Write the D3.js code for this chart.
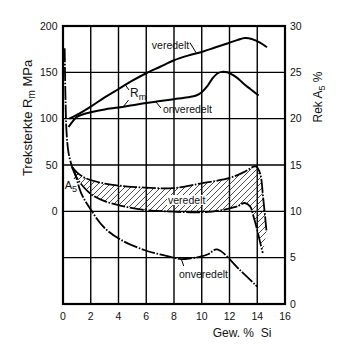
<!DOCTYPE html>
<html>
<head>
<meta charset="utf-8">
<script src="https://cdn.jsdelivr.net/npm/d3@7"></script>
<style>
  html, body { margin: 0; padding: 0; background: #fff; }
  svg { display: block; }
  text { font-family: "Liberation Sans", Arial, Helvetica, sans-serif; fill: #111; }
</style>
</head>
<body>
<svg id="chart" width="350" height="354"></svg>
<script>
// Tick values
const siTicks = [0, 2, 4, 6, 8, 10, 12, 14, 16];
const rmTicks = [0, 50, 100, 150, 200];
const a5Ticks = [0, 5, 10, 15, 20, 25, 30];

// Tensile strength Rm (MPa) – modified (veredelt)
const rmVeredeltSi = [0.45, 1, 2, 3, 4, 5, 6, 7, 8, 9, 10, 11, 12, 12.6, 13.1, 13.6, 14.2, 14.7];
const rmVeredelt   = [100, 104, 113, 123, 132, 141, 149, 156, 163, 168, 172, 177, 182, 185, 187, 186, 182, 177];

// Tensile strength Rm (MPa) – unmodified (onveredelt)
const rmOnveredeltSi = [0.4, 0.7, 1, 1.5, 2, 3, 4, 5, 6, 7, 8, 9, 9.6, 10.0, 10.4, 10.75, 11.1, 11.45, 11.85, 12.2, 12.6, 13, 13.5, 14.1];
const rmOnveredelt   = [91, 97, 102, 105, 107, 110, 112, 114.5, 117, 119, 121, 123, 125, 128.5, 135, 143, 148.5, 150.5, 150, 147.5, 143.5, 138, 132, 125];

// Elongation A5 (%) – common steep start near pure Al
const a5StartSi = [0.12, 0.15, 0.19, 0.25, 0.4, 0.65];
const a5Start   = [27.6, 24.5, 21.5, 18.7, 16.3, 14.8];

// Elongation A5 (%) – modified, upper bound (ends in the right-hand edge of the band)
const a5VeredeltHighSi = [0.65, 1.0, 1.6, 3.0, 4.5, 5.9, 7.9, 9.9, 12, 13.0, 13.9, 14.2, 14.43, 14.67];
const a5VeredeltHigh   = [14.8, 14.2, 13.6, 13.0, 12.7, 12.56, 12.5, 13.0, 13.6, 14.2, 14.85, 14.1, 11.4, 7.8];

// Elongation A5 (%) – modified, lower bound
const a5VeredeltLowSi = [0.65, 1.0, 1.5, 2.07, 3.0, 4.2, 5.9, 7.9, 9.9, 11.3, 12.5, 13.1, 13.5, 13.7, 13.96, 14.2, 14.4];
const a5VeredeltLow   = [14.8, 13.6, 12.6, 11.8, 11.1, 10.6, 10.15, 9.97, 9.9, 10.1, 10.5, 10.9, 10.5, 9.6, 8.2, 6.7, 5.5];

// Elongation A5 (%) – unmodified
const a5OnveredeltSi = [0.65, 0.86, 1.3, 1.95, 3.0, 4.2, 5.9, 7.0, 8.0, 8.5, 9.2, 9.9, 10.5, 11.1, 12.75, 14.0];
const a5Onveredelt   = [14.8, 14.1, 12.0, 10.3, 8.2, 6.9, 5.8, 5.35, 5.0, 4.85, 4.93, 5.1, 5.4, 5.9, 3.67, 1.87];

const svg = d3.select("#chart");

// Scales: a shared grid of six rows; Rm axis labelled only from 0 upward
const x = d3.scaleLinear().domain([0, 16]).range([63, 285]);
const yRm = d3.scaleLinear().domain([-100, 200]).range([304, 26]);
const yA5 = d3.scaleLinear().domain([0, 30]).range([304, 26]);

const zip = (xs, ys) => xs.map((v, i) => [v, ys[i]]);

// Hatch pattern for the modified elongation band
const defs = svg.append("defs");
const pat = defs.append("pattern")
  .attr("id", "hatch").attr("patternUnits", "userSpaceOnUse")
  .attr("width", 6).attr("height", 6);
pat.append("path")
  .attr("d", "M0,6 L6,0 M-1.5,1.5 L1.5,-1.5 M4.5,7.5 L7.5,4.5")
  .attr("stroke", "#222").attr("stroke-width", 0.8);

// Grid
const grid = svg.append("g");
grid.selectAll("line.v").data(siTicks.slice(1, -1)).join("line")
  .attr("x1", d => x(d)).attr("x2", d => x(d))
  .attr("y1", yA5(0)).attr("y2", yA5(30))
  .attr("stroke", "#000").attr("stroke-width", 1.4);
grid.selectAll("line.h").data(a5Ticks.slice(1, -1)).join("line")
  .attr("x1", x(0)).attr("x2", x(16))
  .attr("y1", d => yA5(d)).attr("y2", d => yA5(d))
  .attr("stroke", "#000").attr("stroke-width", 1.4);

// Hatched band between the modified A5 bounds
const bandPts = zip(a5VeredeltHighSi, a5VeredeltHigh)
  .concat(zip(a5VeredeltLowSi, a5VeredeltLow).reverse());
svg.append("path")
  .attr("d", d3.line().x(d => x(d[0])).y(d => yA5(d[1])).curve(d3.curveLinearClosed)(bandPts))
  .attr("fill", "url(#hatch)").attr("stroke", "none");

// Frame
svg.append("rect")
  .attr("x", x(0)).attr("y", yA5(30))
  .attr("width", x(16) - x(0)).attr("height", yA5(0) - yA5(30))
  .attr("fill", "none").attr("stroke", "#000").attr("stroke-width", 2.2);

// Rm curves (solid)
const lineRm = d3.line().x(d => x(d[0])).y(d => yRm(d[1])).curve(d3.curveCatmullRom.alpha(0.5));
[[rmVeredeltSi, rmVeredelt], [rmOnveredeltSi, rmOnveredelt]].forEach(([xs, ys]) => {
  svg.append("path").attr("d", lineRm(zip(xs, ys)))
    .attr("fill", "none").attr("stroke", "#000").attr("stroke-width", 2);
});

// A5 curves (dash-dot)
const lineA5 = d3.line().x(d => x(d[0])).y(d => yA5(d[1])).curve(d3.curveCatmullRom.alpha(0.5));
const dashDot = "14,1.6,1.6,1.6";
[[a5StartSi, a5Start], [a5VeredeltHighSi, a5VeredeltHigh], [a5VeredeltLowSi, a5VeredeltLow], [a5OnveredeltSi, a5Onveredelt]]
  .forEach(([xs, ys]) => {
    svg.append("path").attr("d", lineA5(zip(xs, ys)))
      .attr("fill", "none").attr("stroke", "#000").attr("stroke-width", 1.8)
      .attr("stroke-dasharray", dashDot);
  });

// Axes tick labels
const tickFont = "10.5px";
svg.append("g").selectAll("text").data(rmTicks).join("text")
  .attr("x", 57.5).attr("y", d => yRm(d) + 3.8)
  .attr("text-anchor", "end").style("font-size", tickFont).text(d => d);
svg.append("g").selectAll("text").data(a5Ticks).join("text")
  .attr("x", 290).attr("y", d => yA5(d) + 3.8)
  .attr("text-anchor", "start").style("font-size", tickFont).text(d => d);
svg.append("g").selectAll("text").data(siTicks).join("text")
  .attr("x", d => x(d)).attr("y", 320)
  .attr("text-anchor", "middle").style("font-size", tickFont).text(d => d);

// Axis titles
svg.append("text").attr("x", 242).attr("y", 337)
  .attr("text-anchor", "middle").style("font-size", "12px")
  .attr("xml:space", "preserve").text("Gew. %  Si");

const tl = svg.append("text")
  .attr("transform", "translate(31.5,118) rotate(-90)")
  .attr("text-anchor", "middle").style("font-size", "13px");
tl.append("tspan").text("Treksterkte R");
tl.append("tspan").attr("dy", 3).style("font-size", "10px").text("m");
tl.append("tspan").attr("dy", -3).text(" MPa");

const tr = svg.append("text")
  .attr("transform", "translate(322,97) rotate(-90)")
  .attr("text-anchor", "middle").style("font-size", "12px");
tr.append("tspan").text("Rek A");
tr.append("tspan").attr("dy", 3).style("font-size", "9px").text("5");
tr.append("tspan").attr("dy", -3).text(" %");

// Curve labels and leaders
const lbl = 10.5;
function leader(x1, y1, x2, y2) {
  svg.append("line").attr("x1", x1).attr("y1", y1).attr("x2", x2).attr("y2", y2)
    .attr("stroke", "#000").attr("stroke-width", 1);
}

// top: veredelt Rm
svg.append("text").attr("x", x(6.4)).attr("y", yRm(175)).style("font-size", lbl + "px").text("veredelt");
leader(x(9.15), yRm(182), x(9.6), yRm(171));

// Rm
const rmT = svg.append("text").attr("x", x(4.83)).attr("y", yRm(123)).style("font-size", "12px");
rmT.append("tspan").text("R");
rmT.append("tspan").attr("dy", 2.5).style("font-size", "9px").text("m");
leader(x(4.47), yRm(137), x(4.75), yRm(131));
leader(x(4.35), yRm(113), x(4.72), yRm(120));

// onveredelt Rm
svg.append("text").attr("x", x(7.2)).attr("y", yRm(106.4)).style("font-size", lbl + "px").text("onveredelt");
leader(x(6.7), yRm(118), x(7.06), yRm(111.5));

// A5
const a5T = svg.append("text").attr("x", x(0.12)).attr("y", yA5(12.4)).style("font-size", "11px");
a5T.append("tspan").text("A");
a5T.append("tspan").attr("dy", 2.5).style("font-size", "9px").text("5");
leader(x(0.8), yA5(13.5), x(1.05), yA5(14.05));

// middle veredelt (on the hatched band)
const mv = svg.append("g");
const mvText = mv.append("text").attr("x", x(7.57)).attr("y", yA5(10.79)).style("font-size", lbl + "px").text("veredelt");
const bb = mvText.node().getBBox();
mv.insert("rect", "text").attr("x", bb.x - 1).attr("y", bb.y + 1).attr("width", bb.width + 2).attr("height", bb.height - 2).attr("fill", "#fff");

// bottom onveredelt
svg.append("text").attr("x", x(8.36)).attr("y", yA5(2.8)).style("font-size", lbl + "px").text("onveredelt");
leader(x(8.55), yA5(4.75), x(8.7), yA5(4.1));
</script>
</body>
</html>
